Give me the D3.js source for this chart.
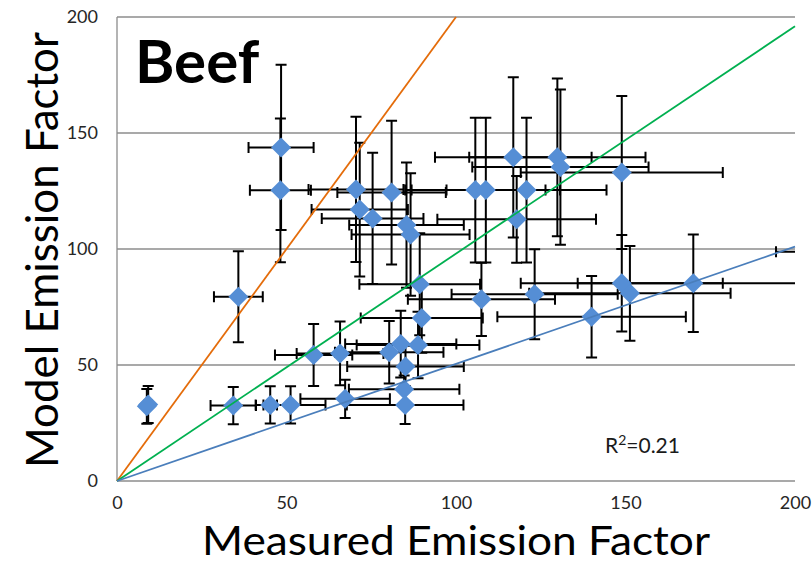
<!DOCTYPE html>
<html>
<head>
<meta charset="utf-8">
<script src="https://cdn.jsdelivr.net/npm/d3@7"></script>
<style>
  html, body { margin: 0; padding: 0; background: #fff; }
  svg { display: block; font-family: Lato, "Open Sans", sans-serif; }
</style>
</head>
<body>
<svg id="chart" width="812" height="564"></svg>
<script>
// Beef: measured vs. modelled emission factors, with uncertainty in both directions
const measured    = [9.2, 8.8, 34.3, 35.8, 45.2, 48.4, 48.2, 51.2, 58.0, 65.8, 67.3, 70.5, 71.6, 75.4, 80.3, 81.0, 83.7, 84.7, 85.0, 85.1, 85.4, 86.6, 88.8, 89.3, 89.9, 105.7, 107.5, 108.8, 116.9, 117.9, 120.8, 123.2, 129.9, 130.8, 140.0, 148.9, 148.9, 151.3, 170.0, 215.0];
const model       = [33.0, 32.2, 32.5, 79.4, 32.8, 143.8, 125.3, 32.8, 54.3, 55.0, 35.4, 125.7, 117.0, 113.2, 55.5, 124.3, 59.0, 39.5, 32.8, 49.3, 110.3, 106.2, 58.6, 84.8, 70.3, 125.4, 78.3, 125.4, 139.5, 112.8, 125.4, 80.5, 139.5, 135.3, 70.8, 133.0, 85.2, 80.9, 85.2, 98.8];
const measuredErr = [1.0, 0.8, 6.7, 7.2, 2.0, 9.6, 9.0, 10.3, 11.4, 12.8, 13.2, 14.0, 14.2, 15.0, 16.0, 16.0, 16.4, 16.3, 17.2, 17.2, 16.9, 17.4, 18.1, 17.8, 18.0, 20.7, 21.7, 21.9, 23.1, 23.4, 23.6, 24.5, 26.0, 26.0, 27.8, 29.8, 29.8, 29.7, 34.1, 20.6];
const modelErr    = [8.0, 7.5, 8.0, 19.6, 8.0, 35.6, 31.0, 8.0, 13.4, 13.7, 8.2, 31.3, 28.8, 28.3, 13.5, 31.0, 14.4, 6.0, 8.2, 9.0, 27.0, 26.4, 14.3, 22.0, 15.0, 31.2, 15.8, 31.2, 34.5, 18.7, 31.2, 19.4, 34.0, 33.5, 17.6, 33.0, 20.8, 20.4, 21.0, 10.0];

const xTicks = [0, 50, 100, 150, 200];
const yTicks = [0, 50, 100, 150, 200];

// Reference lines through the origin: 2:1, fitted near 1:1, and 1:2
const lineSlopes = [2, 0.98, 0.505];
const lineColors = ["#E46C0A", "#00B050", "#4A7EBB"];

const rSquared = "0.21";

const W = 812, H = 564;
const margin = { top: 17, right: 17, bottom: 83, left: 117 };
const iw = W - margin.left - margin.right;
const ih = H - margin.top - margin.bottom;

const svg = d3.select("#chart");
const g = svg.append("g").attr("transform", `translate(${margin.left},${margin.top})`);

const x = d3.scaleLinear().domain([0, 200]).range([0, iw]);
const y = d3.scaleLinear().domain([0, 200]).range([ih, 0]);

svg.append("defs").append("clipPath").attr("id", "plotClip")
  .append("rect").attr("x", 0).attr("y", 0).attr("width", iw).attr("height", ih);

// Horizontal gridlines
g.append("g").selectAll("line").data(yTicks).join("line")
  .attr("x1", 0).attr("x2", iw)
  .attr("y1", d => y(d)).attr("y2", d => y(d))
  .attr("stroke", "#8c8c8c").attr("stroke-width", 1.3);

// Left axis line
g.append("line").attr("x1", 0).attr("x2", 0).attr("y1", 0).attr("y2", ih)
  .attr("stroke", "#8c8c8c").attr("stroke-width", 1.3);

// Axes (labels only)
const yAxis = g.append("g").call(d3.axisLeft(y).tickValues(yTicks).tickSize(0).tickPadding(19));
const xAxis = g.append("g").attr("transform", `translate(0,${ih})`)
  .call(d3.axisBottom(x).tickValues(xTicks).tickSize(0).tickPadding(15));
[yAxis, xAxis].forEach(a => {
  a.select(".domain").remove();
  a.selectAll("text").attr("font-size", 18).attr("fill", "#262626")
    .attr("font-family", "Lato, 'Open Sans', sans-serif");
});

const pts = measured.map((m, i) => ({ x: m, y: model[i], ex: measuredErr[i], ey: modelErr[i] }));

// Error bars
const cap = 5.5;
const eb = g.append("g").attr("clip-path", "url(#plotClip)")
  .attr("stroke", "#000").attr("stroke-width", 2).attr("fill", "none");
const ebg = eb.selectAll("g").data(pts).join("g");
ebg.append("path").attr("d", d => {
  const x0 = x(d.x - d.ex), x1 = x(d.x + d.ex), yc = y(d.y);
  return `M${x0},${yc}H${x1}M${x0},${yc - cap}V${yc + cap}M${x1},${yc - cap}V${yc + cap}`;
});
ebg.append("path").attr("d", d => {
  const y0 = y(d.y - d.ey), y1 = y(d.y + d.ey), xc = x(d.x);
  return `M${xc},${y0}V${y1}M${xc - cap},${y0}H${xc + cap}M${xc - cap},${y1}H${xc + cap}`;
});

// Diamond markers
const r = 10;
g.append("g").attr("clip-path", "url(#plotClip)")
  .selectAll("path").data(pts).join("path")
  .attr("d", d => `M${x(d.x)},${y(d.y) - r}L${x(d.x) + r},${y(d.y)}L${x(d.x)},${y(d.y) + r}L${x(d.x) - r},${y(d.y)}Z`)
  .attr("fill", "#558ED5");

// Reference lines
const line = d3.line().x(d => x(d[0])).y(d => y(d[1]));
g.append("g").selectAll("path").data(lineSlopes).join("path")
  .attr("d", s => {
    const xEnd = Math.min(200, 200 / s);
    return line([[0, 0], [xEnd, s * xEnd]]);
  })
  .attr("stroke", (s, i) => lineColors[i])
  .attr("stroke-width", 1.8).attr("fill", "none");

// Fit a text element to a target width by adjusting its font size
function fitWidth(sel, target) {
  const node = sel.node();
  const fs = parseFloat(sel.attr("font-size"));
  const w = node.getComputedTextLength();
  sel.attr("font-size", fs * target / w);
}

// Panel title
svg.append("text").attr("x", 135).attr("y", 83)
  .attr("font-size", 60).attr("font-weight", "bold").attr("fill", "#000")
  .text("Beef");

// R² annotation
const rt = svg.append("text").attr("x", 605).attr("y", 453)
  .attr("font-size", 21).attr("fill", "#1a1a1a");
rt.append("tspan").text("R");
rt.append("tspan").attr("font-size", 14).attr("dy", -8).text("2");
rt.append("tspan").attr("dy", 8).text("=" + rSquared);

// Axis titles
svg.append("text").attr("x", 456).attr("y", 555)
  .attr("text-anchor", "middle").attr("font-size", 41).attr("fill", "#000")
  .attr("textLength", 508).attr("lengthAdjust", "spacingAndGlyphs")
  .text("Measured Emission Factor");

const yt = svg.append("text")
  .attr("transform", `translate(58,250) rotate(-90)`)
  .attr("text-anchor", "middle").attr("font-size", 46).attr("fill", "#000")
  .text("Model Emission Factor");
fitWidth(yt, 436);
</script>
</body>
</html>
